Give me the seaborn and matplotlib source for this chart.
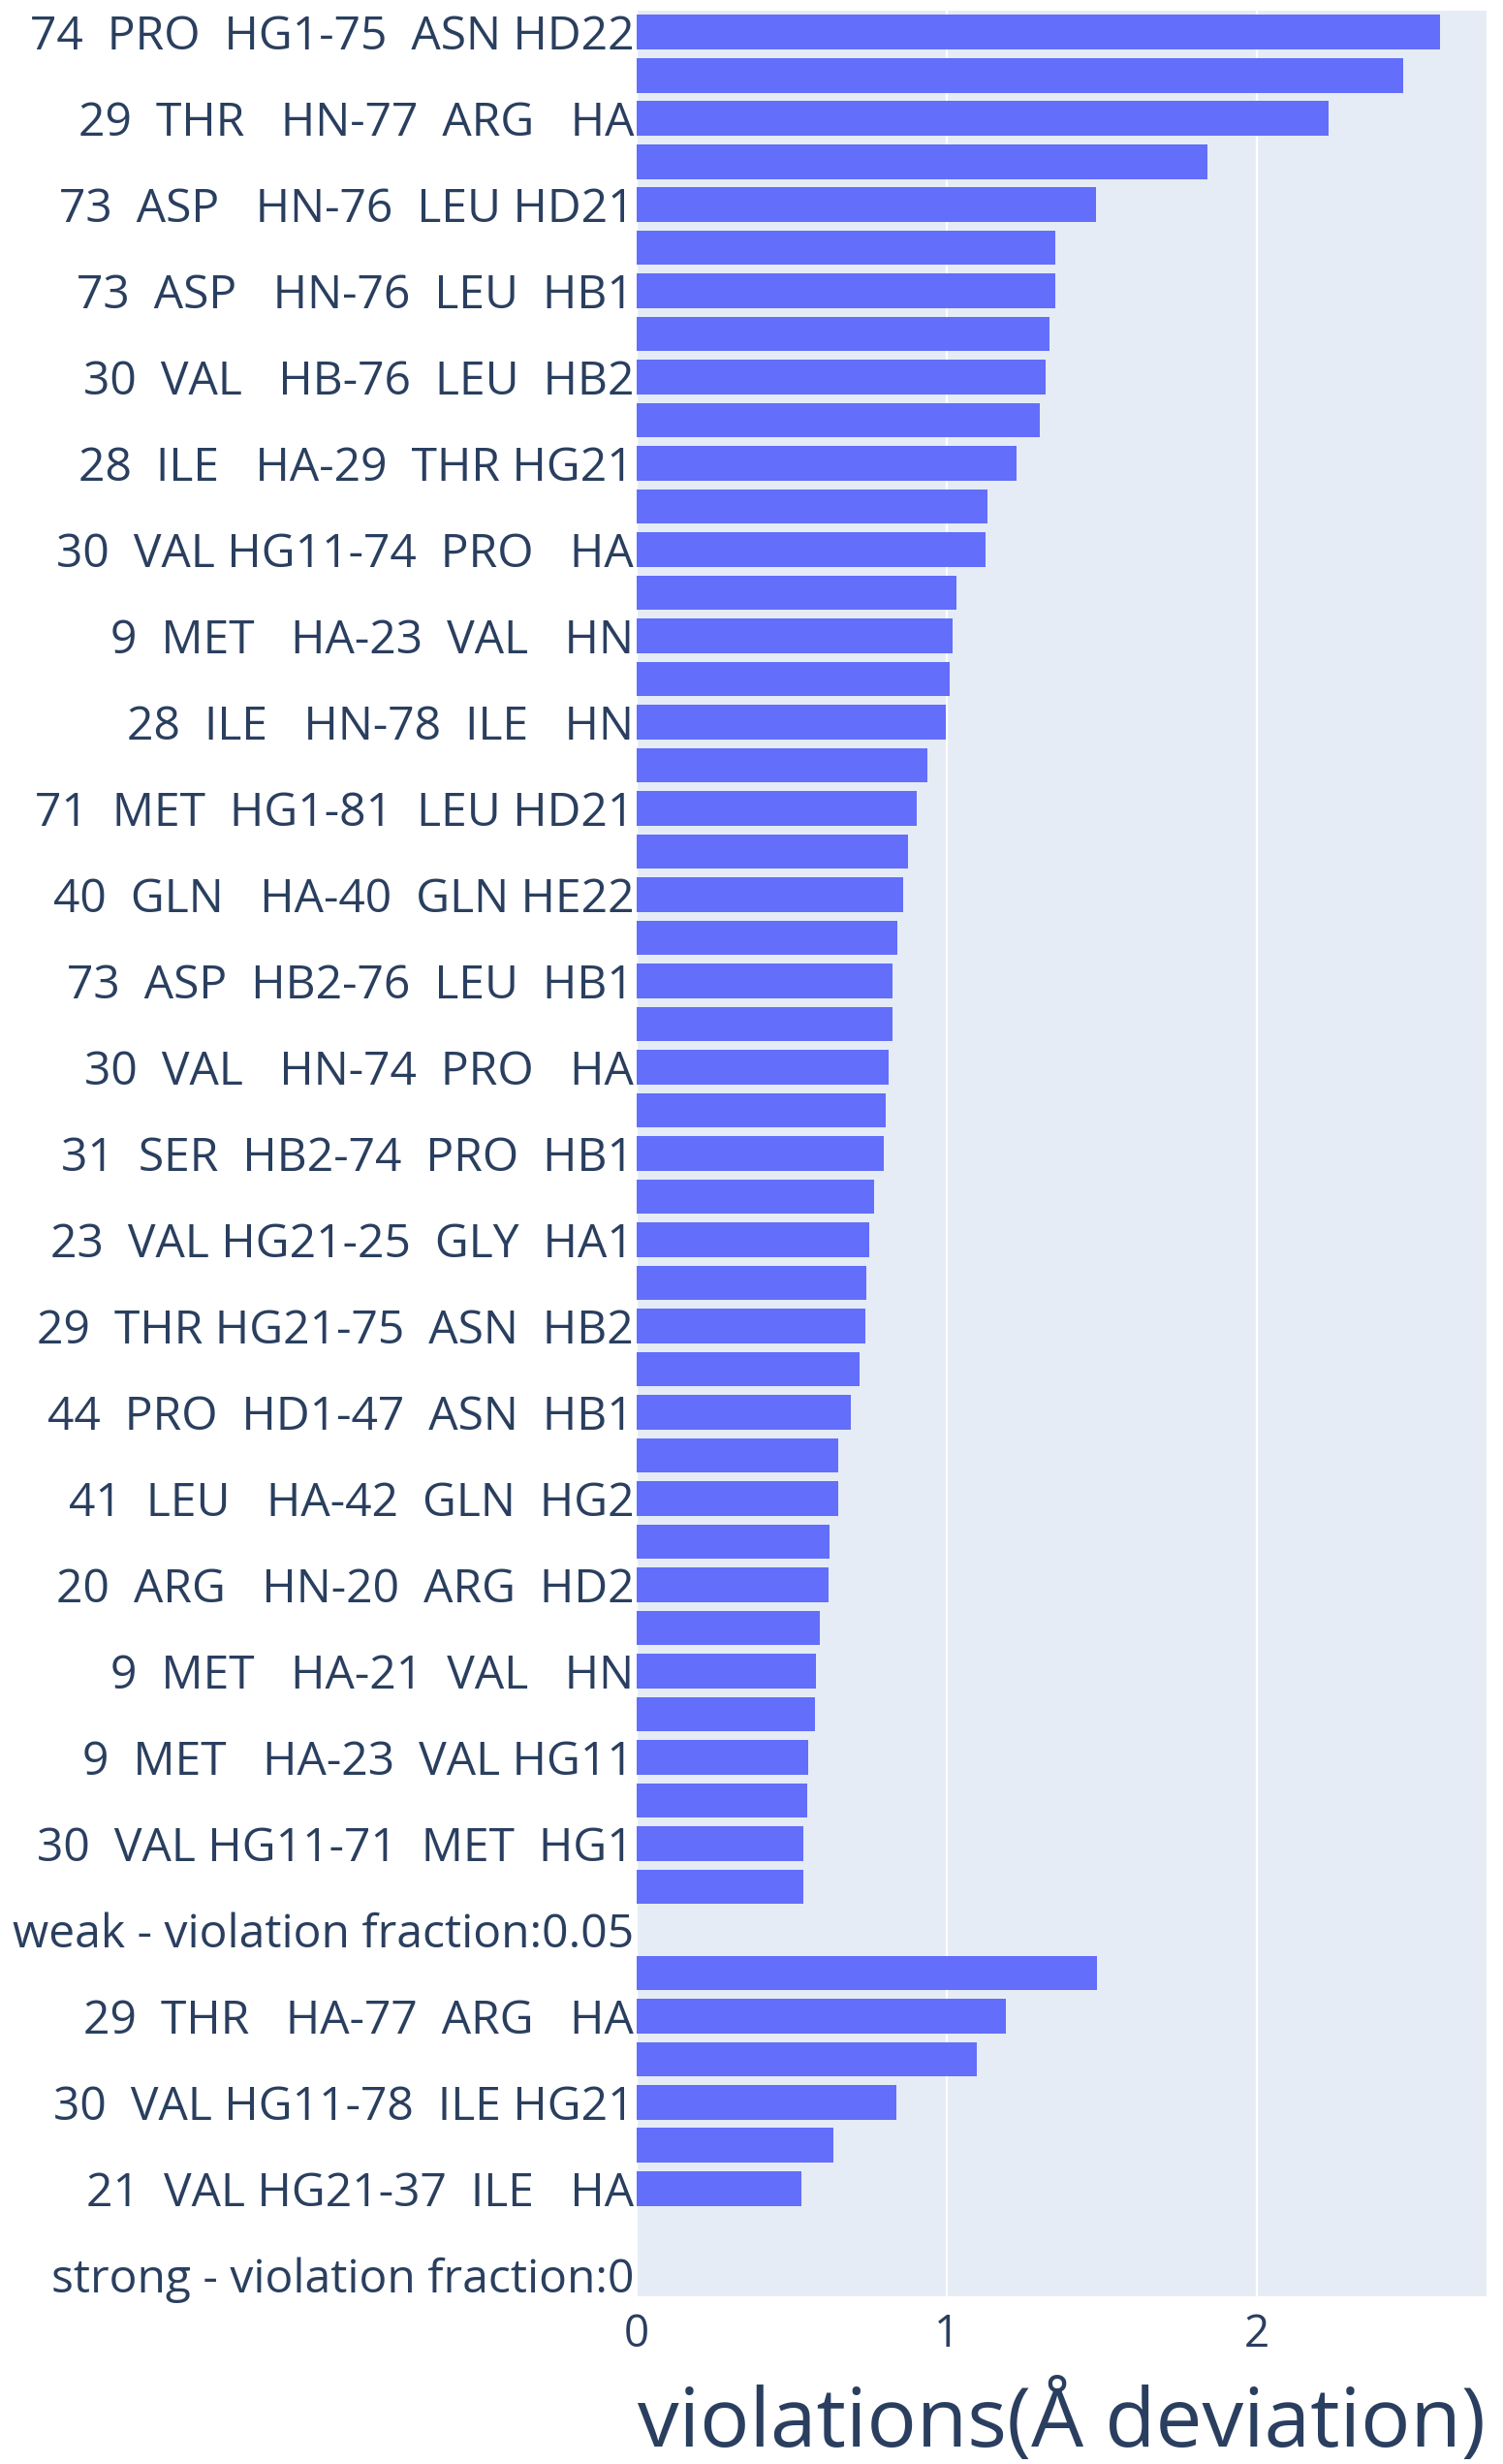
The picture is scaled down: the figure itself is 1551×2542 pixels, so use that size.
import numpy as np
import pandas as pd
import matplotlib
matplotlib.use('Agg')
import matplotlib.pyplot as plt
import seaborn as sns

# Row labels, top to bottom ("" where the tick label is skipped in the reference)
labels = [
    '74  PRO  HG1-75  ASN HD22', '',
    '29  THR   HN-77  ARG   HA', '',
    '73  ASP   HN-76  LEU HD21', '',
    '73  ASP   HN-76  LEU  HB1', '',
    '30  VAL   HB-76  LEU  HB2', '',
    '28  ILE   HA-29  THR HG21', '',
    '30  VAL HG11-74  PRO   HA', '',
    '9  MET   HA-23  VAL   HN', '',
    '28  ILE   HN-78  ILE   HN', '',
    '71  MET  HG1-81  LEU HD21', '',
    '40  GLN   HA-40  GLN HE22', '',
    '73  ASP  HB2-76  LEU  HB1', '',
    '30  VAL   HN-74  PRO   HA', '',
    '31  SER  HB2-74  PRO  HB1', '',
    '23  VAL HG21-25  GLY  HA1', '',
    '29  THR HG21-75  ASN  HB2', '',
    '44  PRO  HD1-47  ASN  HB1', '',
    '41  LEU   HA-42  GLN  HG2', '',
    '20  ARG   HN-20  ARG  HD2', '',
    '9  MET   HA-21  VAL   HN', '',
    '9  MET   HA-23  VAL HG11', '',
    '30  VAL HG11-71  MET  HG1', '',
    'weak - violation fraction:0.05', '',
    '29  THR   HA-77  ARG   HA', '',
    '30  VAL HG11-78  ILE HG21', '',
    '21  VAL HG21-37  ILE   HA', '',
    'strong - violation fraction:0',
]

# Violation in Angstrom per row (NaN = group header / empty row)
violations = [
    2.59, 2.47, 2.23, 1.84, 1.48, 1.35, 1.35, 1.33, 1.32, 1.30,
    1.225, 1.13, 1.125, 1.03, 1.02, 1.01, 0.997, 0.938, 0.902, 0.874,
    0.858, 0.84, 0.825, 0.825, 0.812, 0.803, 0.797, 0.766, 0.751, 0.742,
    0.738, 0.72, 0.689, 0.649, 0.649, 0.622, 0.618, 0.591, 0.578, 0.575,
    0.554, 0.551, 0.538, 0.538, np.nan,
    1.483, 1.191, 1.098, 0.837, 0.634, 0.532, np.nan, np.nan,
]

x_ticks = [0, 1, 2]

df = pd.DataFrame({'row': list(range(len(labels))), 'violation': violations})

sns.set_style("white")
plt.rcParams['font.family'] = ['Open Sans', 'DejaVu Sans']
text_color = '#2a3f5f'

W, H = 1551, 2542
fig = plt.figure(figsize=(W / 100, H / 100), dpi=100)
ax = fig.add_axes([657 / W, 1 - 2369 / H, (1534 - 657) / W, (2369 - 11) / H])
ax.set_facecolor('#E5ECF6')

sns.barplot(data=df, x='violation', y='row', orient='h', order=df['row'].tolist(),
            color='#636EFA', saturation=1, width=0.8, linewidth=0, ax=ax)

ax.set_xlim(0, 2.74)
ax.set_ylim(len(labels) - 0.5, -0.5)
ax.set_xticks(x_ticks)
ax.set_xticklabels([str(t) for t in x_ticks])
ax.set_yticks(range(len(labels)))
ax.set_yticklabels(labels)
ax.grid(axis='x', color='white', linewidth=1.6)
ax.grid(axis='y', visible=False)
ax.set_axisbelow(True)
for s in ax.spines.values():
    s.set_visible(False)

ax.tick_params(axis='y', length=0, pad=2, labelsize=34.6, labelcolor=text_color)
ax.tick_params(axis='x', length=0, pad=12, labelsize=33, labelcolor=text_color)
ax.set_ylabel('')
ax.set_xlabel('violations(Å deviation)', fontsize=61.5, color=text_color, labelpad=18)

fig.savefig('out.png', dpi=100)
